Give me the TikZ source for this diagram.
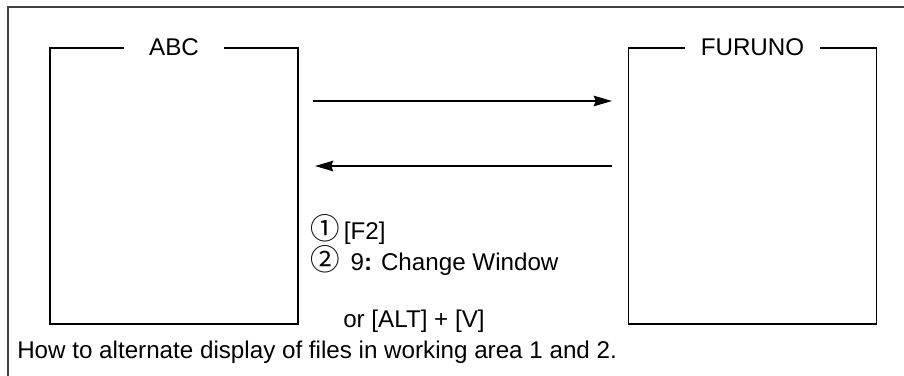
\documentclass[tikz,border=0pt]{standalone}
\usepackage{fontspec}
\setmainfont{Liberation Sans}
\newfontfamily\cjk{Noto Sans CJK JP}
\usetikzlibrary{arrows.meta,positioning}

\begin{document}
\begin{tikzpicture}[x=0.025cm,y=-0.025cm,
 font=\fontsize{17.2}{20}\selectfont,
 win/.style={draw,line width=1pt,minimum width=6.2cm,minimum height=6.9cm,inner sep=0pt},
 ttl/.style={fill=white,inner sep=0pt,minimum height=0.5cm},
 txt/.style={anchor=west,inner sep=0pt},
 flow/.style={-{Stealth[length=13pt,width=7.5pt,inset=1.5pt]},line width=0.95pt}]
\useasboundingbox (0,0) rectangle (904,376);
% frame
\draw[line width=1.3pt,black!75] (8,376) -- (8,7) -- (904,7);
% windows
\node[win] (abc) at (174,186) {};
\node[win] (furuno) at (752.5,186) {};
\node[ttl,minimum width=2.475cm] (abct) at (abc.north) {ABC};
\node[ttl,minimum width=3.375cm] (furt) at (furuno.north) {FURUNO};
% arrows
\coordinate (r1) at (313,101); \coordinate (r2) at (612,101);
\coordinate (l1) at (612,166); \coordinate (l2) at (315,166);
\draw[flow] (r1) -- (r2);
\draw[flow] (l1) -- (l2);
% keys
\node[txt] (k1) at (310,230) {{\cjk\fontsize{21}{21}\selectfont ①}\,[F2]};
\node[txt] (k2) at (310,261) {{\cjk\fontsize{21}{21}\selectfont ②}\ \,9\textbf{:} Change Window};
\node[txt] (k3) at (343,321) {or [ALT] + [V]};
\node[txt] (cap) at (17,352) {How to alternate display of files in working area 1 and 2.};
\end{tikzpicture}
\end{document}
